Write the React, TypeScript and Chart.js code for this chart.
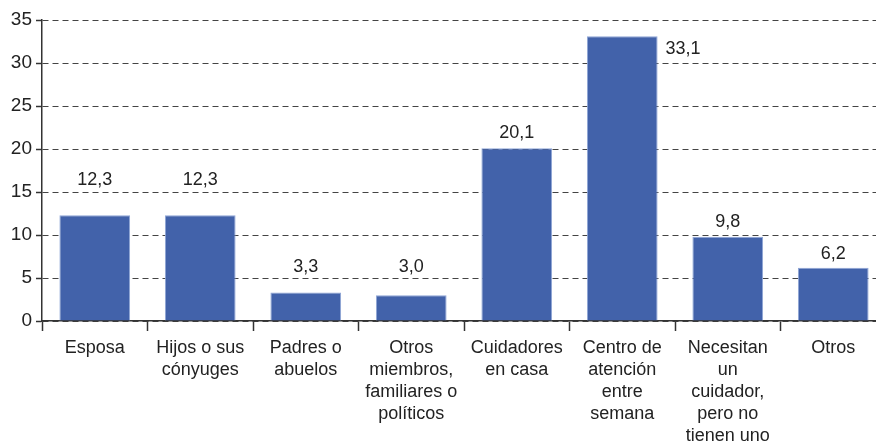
import React, { useEffect, useRef } from "react";
import { Chart, registerables } from "chart.js";

Chart.register(...registerables);

const categories: (string | string[])[] = [
  "Esposa",
  ["Hijos o sus", "cónyuges"],
  ["Padres o", "abuelos"],
  ["Otros", "miembros,", "familiares o", "políticos"],
  ["Cuidadores", "en casa"],
  ["Centro de", "atención", "entre", "semana"],
  ["Necesitan", "un", "cuidador,", "pero no", "tienen uno"],
  "Otros",
];
const values = [12.3, 12.3, 3.3, 3.0, 20.1, 33.1, 9.8, 6.2];
const valueLabels = ["12,3", "12,3", "3,3", "3,0", "20,1", "33,1", "9,8", "6,2"];
// vertical anchor of each value label, in axis units
const labelAnchor = [16.4, 16.4, 6.3, 6.3, 21.9, 31.6, 11.5, 7.8];
const labelSide = ["top", "top", "top", "top", "top", "right", "top", "top"];
const yTicks = [0, 5, 10, 15, 20, 25, 30, 35];

const FONT = "'Liberation Sans', Arial, sans-serif";
const TEXT = "#222222";

const labelPlugin = {
  id: "valueLabels",
  afterDatasetsDraw(chart: any) {
    const { ctx } = chart;
    const meta = chart.getDatasetMeta(0);
    const yScale = chart.scales.y;
    ctx.save();
    ctx.font = `18px ${FONT}`;
    ctx.fillStyle = TEXT;
    ctx.textBaseline = "middle";
    meta.data.forEach((bar: any, i: number) => {
      const y = yScale.getPixelForValue(labelAnchor[i]);
      if (labelSide[i] === "right") {
        ctx.textAlign = "left";
        ctx.fillText(valueLabels[i], bar.x + bar.width / 2 + 8, y);
      } else {
        ctx.textAlign = "center";
        ctx.fillText(valueLabels[i], bar.x, y);
      }
    });
    ctx.restore();
  },
};

export default function App() {
  const ref = useRef<HTMLCanvasElement | null>(null);
  useEffect(() => {
    if (!ref.current) return;
    const chart = new Chart(ref.current, {
      type: "bar",
      data: {
        labels: categories as any,
        datasets: [
          {
            data: values,
            backgroundColor: "#4262AA",
            borderColor: "#8EA5D6",
            borderWidth: 1,
            barPercentage: 0.67,
            categoryPercentage: 1,
          },
        ],
      },
      options: {
        animation: false,
        responsive: false,
        layout: { padding: { top: 20, right: 0, bottom: 0, left: 0 } },
        plugins: { legend: { display: false }, tooltip: { enabled: false } },
        scales: {
          x: {
            grid: {
              offset: true,
              drawOnChartArea: false,
              drawTicks: true,
              tickLength: 10,
              tickColor: "#333333",
              tickWidth: 1.5,
            },
            border: { display: true, color: "#333333", width: 1.5 },
            ticks: {
              color: TEXT,
              font: { family: FONT, size: 18, lineHeight: 1.22 },
              padding: 6,
              maxRotation: 0,
              autoSkip: false,
            },
            afterFit: (s: any) => {
              s.height = 122;
            },
          },
          y: {
            min: 0,
            max: 35,
            afterBuildTicks: (s: any) => {
              s.ticks = yTicks.map((v) => ({ value: v }));
            },
            grid: {
              color: "#444444",
              lineWidth: 1,
              drawTicks: true,
              tickLength: 6,
              tickColor: "#333333",
              tickWidth: 1.5,
            },
            border: { display: true, color: "#333333", width: 1.5, dash: [6, 4] },
            ticks: {
              color: TEXT,
              font: { family: FONT, size: 19 },
              padding: 4,
            },
            afterFit: (s: any) => {
              s.width = 42;
            },
          },
        },
      },
      plugins: [labelPlugin],
    });
    return () => chart.destroy();
  }, []);
  return (
    <div
      style={{
        position: "fixed",
        left: 0,
        top: 0,
        width: 876,
        height: 443,
        overflow: "hidden",
        background: "#ffffff",
      }}
    >
      <canvas ref={ref} width={886} height={443} style={{ display: "block" }} />
    </div>
  );
}
